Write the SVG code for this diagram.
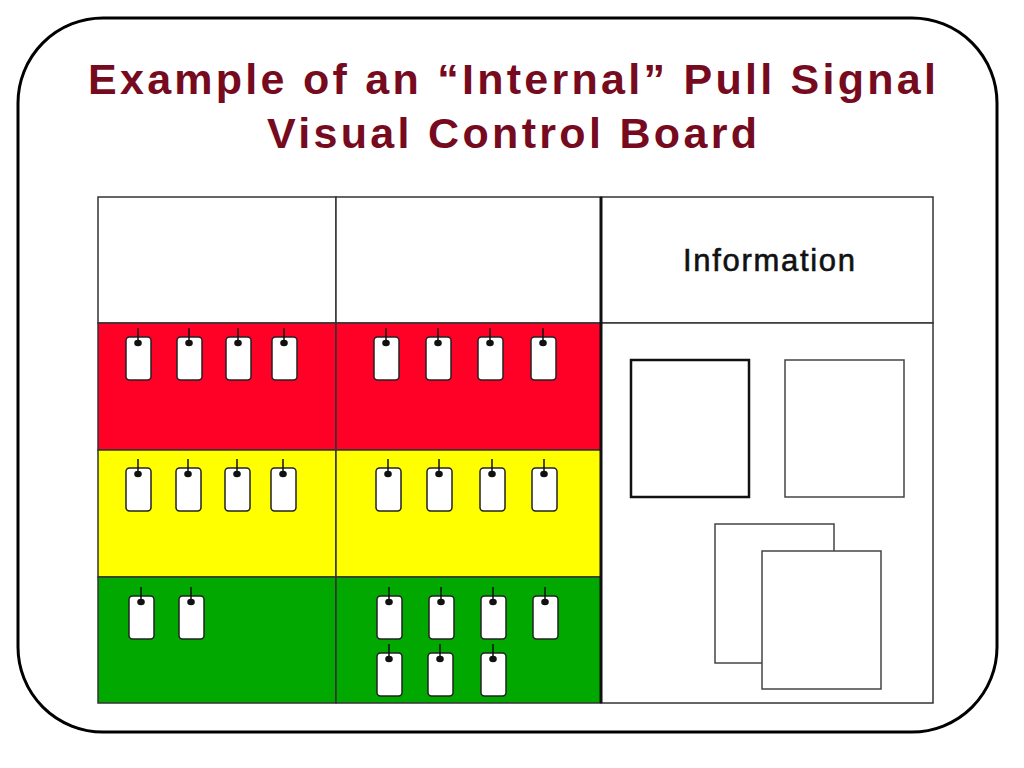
<svg xmlns="http://www.w3.org/2000/svg" xmlns:xlink="http://www.w3.org/1999/xlink" width="1024" height="768" viewBox="0 0 1024 768">
<style>
.title{font-family:"Liberation Sans",Arial,sans-serif;font-weight:bold;font-size:43px;fill:#760A1E;text-anchor:middle}
.info{font-family:"Liberation Sans",Arial,sans-serif;font-weight:normal;font-size:31px;fill:#111;stroke:#111;stroke-width:0.6;text-anchor:middle}
.cell{stroke:#333;stroke-width:1.5}
.tag rect{fill:#fff;stroke:#222;stroke-width:1.5}
.doc{fill:#fff;stroke:#444;stroke-width:1.5}
</style>
<defs>
<g id="tag" class="tag">
<rect x="0" y="0" width="25" height="43" rx="3.5"/>
<line x1="12" y1="-9" x2="12" y2="6" stroke="#111" stroke-width="1.5"/>
<ellipse cx="12" cy="6" rx="3.8" ry="3.2" fill="#111"/>
</g>
</defs>
<rect width="1024" height="768" fill="#fff"/>
<rect id="frame" x="18" y="18" width="979" height="714" rx="85" ry="85" fill="#fff" stroke="#000" stroke-width="3"/>
<g id="title">
<text class="title" x="512" y="94" textLength="848" lengthAdjust="spacing">Example of an “Internal” Pull Signal</text>
<text class="title" x="512" y="148" textLength="490" lengthAdjust="spacing">Visual Control Board</text>
</g>
<g id="board">
<rect class="cell" x="98" y="197" width="238" height="126" fill="#fff"/>
<rect class="cell" x="336" y="197" width="265" height="126" fill="#fff"/>
<rect class="cell" x="98" y="323" width="238" height="127" fill="#FF0026"/>
<rect class="cell" x="336" y="323" width="265" height="127" fill="#FF0026"/>
<rect class="cell" x="98" y="450" width="238" height="127" fill="#FFFF00"/>
<rect class="cell" x="336" y="450" width="265" height="127" fill="#FFFF00"/>
<rect class="cell" x="98" y="577" width="238" height="126" fill="#00A800"/>
<rect class="cell" x="336" y="577" width="265" height="126" fill="#00A800"/>
<rect class="cell" x="601" y="197" width="332" height="126" fill="#fff"/>
<rect class="cell" x="601" y="323" width="332" height="380" fill="#fff"/>
<line x1="601" y1="197" x2="601" y2="703" stroke="#111" stroke-width="3"/>
</g>
<g id="info-header">
<text class="info" x="769" y="271" textLength="172" lengthAdjust="spacing">Information</text>
</g>
<g id="red-row">
<use xlink:href="#tag" x="126" y="337"/>
<use xlink:href="#tag" x="177" y="337"/>
<use xlink:href="#tag" x="226" y="337"/>
<use xlink:href="#tag" x="272" y="337"/>
<use xlink:href="#tag" x="374" y="337"/>
<use xlink:href="#tag" x="426" y="337"/>
<use xlink:href="#tag" x="478" y="337"/>
<use xlink:href="#tag" x="531" y="337"/>
</g>
<g id="yellow-row">
<use xlink:href="#tag" x="126" y="468"/>
<use xlink:href="#tag" x="176" y="468"/>
<use xlink:href="#tag" x="225" y="468"/>
<use xlink:href="#tag" x="271" y="468"/>
<use xlink:href="#tag" x="376" y="468"/>
<use xlink:href="#tag" x="427" y="468"/>
<use xlink:href="#tag" x="480" y="468"/>
<use xlink:href="#tag" x="532" y="468"/>
</g>
<g id="green-row">
<use xlink:href="#tag" x="129" y="596"/>
<use xlink:href="#tag" x="179" y="596"/>
<use xlink:href="#tag" x="377" y="596"/>
<use xlink:href="#tag" x="429" y="596"/>
<use xlink:href="#tag" x="481" y="596"/>
<use xlink:href="#tag" x="533" y="596"/>
<use xlink:href="#tag" x="377" y="653"/>
<use xlink:href="#tag" x="428" y="653"/>
<use xlink:href="#tag" x="481" y="653"/>
</g>
<g id="info-docs">
<rect x="631" y="360" width="118" height="137" fill="#fff" stroke="#111" stroke-width="2.5"/>
<rect class="doc" x="785" y="360" width="119" height="137"/>
<rect class="doc" x="715" y="524" width="119" height="139"/>
<rect class="doc" x="762" y="551" width="119" height="138"/>
</g>
</svg>
